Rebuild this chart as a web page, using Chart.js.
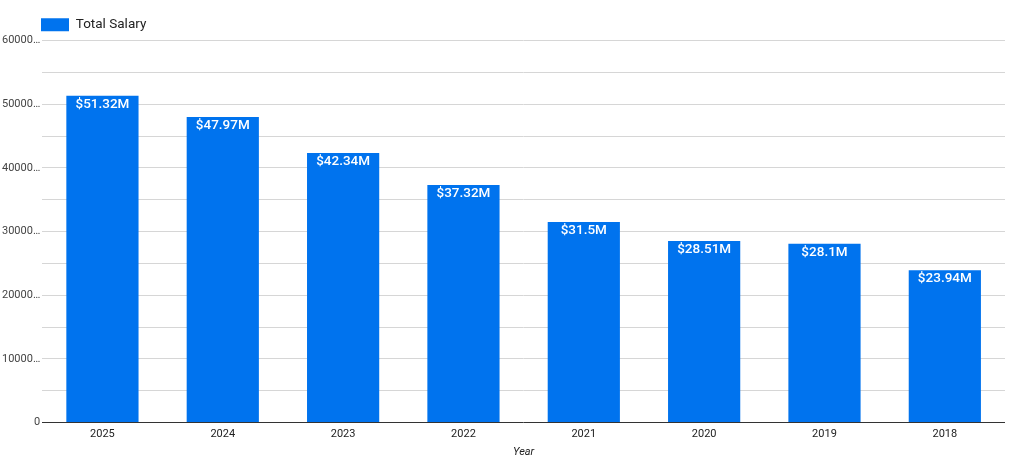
<!DOCTYPE html>
<html>
<head>
<meta charset="utf-8">
<script src="https://cdn.jsdelivr.net/npm/chart.js@4.4.0/dist/chart.umd.min.js"></script>
<style>
html,body{margin:0;padding:0;background:#fff;}
#wrap{width:1022px;height:459px;position:relative;}
</style>
</head>
<body>
<div id="wrap"><canvas id="c"></canvas></div>
<script>
const years = ["2025","2024","2023","2022","2021","2020","2019","2018"];
const totalSalary = [51320000, 47970000, 42340000, 37320000, 31500000, 28510000, 28100000, 23940000];
const salaryLabels = ["$51.32M","$47.97M","$42.34M","$37.32M","$31.5M","$28.51M","$28.1M","$23.94M"];

const barLabelPlugin = {
  id: 'barLabels',
  afterDatasetsDraw(chart) {
    const ctx = chart.ctx;
    const meta = chart.getDatasetMeta(0);
    ctx.save();
    ctx.fillStyle = '#ffffff';
    ctx.font = '500 13.5px Roboto';
    ctx.textAlign = 'center';
    ctx.textBaseline = 'top';
    meta.data.forEach((bar, i) => {
      ctx.fillText(salaryLabels[i], bar.x, bar.y + 2);
    });
    ctx.restore();
  }
};

const legendShift = {
  id: 'legendShift',
  afterLayout(chart) {
    if (chart.legend) { chart.legend.left += 31; chart.legend.top += 1; }
  }
};

new Chart(document.getElementById('c'), {
  type: 'bar',
  data: {
    labels: years,
    datasets: [{
      label: 'Total Salary',
      data: totalSalary,
      backgroundColor: '#0073ee',
      borderWidth: 0,
      barPercentage: 0.6,
      categoryPercentage: 1.0
    }]
  },
  options: {
    responsive: true,
    maintainAspectRatio: false,
    animation: false,
    devicePixelRatio: 1,
    layout: { padding: { left: 0, right: 17, top: 7, bottom: 0 } },
    plugins: {
      legend: {
        position: 'top',
        align: 'start',
        labels: {
          boxWidth: 28,
          boxHeight: 13,
          padding: 10,
          color: '#222',
          font: { family: 'Roboto', size: 13.5 }
        }
      },
      tooltip: { enabled: false }
    },
    scales: {
      x: {
        grid: { display: false, drawTicks: false },
        border: { display: false },
        ticks: { color: '#222', font: { family: 'Roboto', size: 11 }, padding: 5 },
        title: { display: true, text: 'Year', color: '#222', font: { family: 'Roboto', size: 11, style: 'italic' }, padding: { top: 0, bottom: 0 } }
      },
      y: {
        min: 0,
        max: 60000000,
        ticks: {
          stepSize: 5000000,
          color: '#444',
          font: { family: 'Roboto', size: 11 },
          padding: 2,
          callback: function(v) {
            if (v === 0) return '0';
            if (v % 10000000 !== 0) return '';
            return String(v).slice(0, 5) + '…';
          }
        },
        grid: {
          drawTicks: false,
          color: function(c) { return c.tick && c.tick.value === 0 ? '#333' : '#d6d6d6'; },
          lineWidth: 1
        },
        border: { display: false }
      }
    }
  },
  plugins: [barLabelPlugin, legendShift]
});
</script>
</body>
</html>
